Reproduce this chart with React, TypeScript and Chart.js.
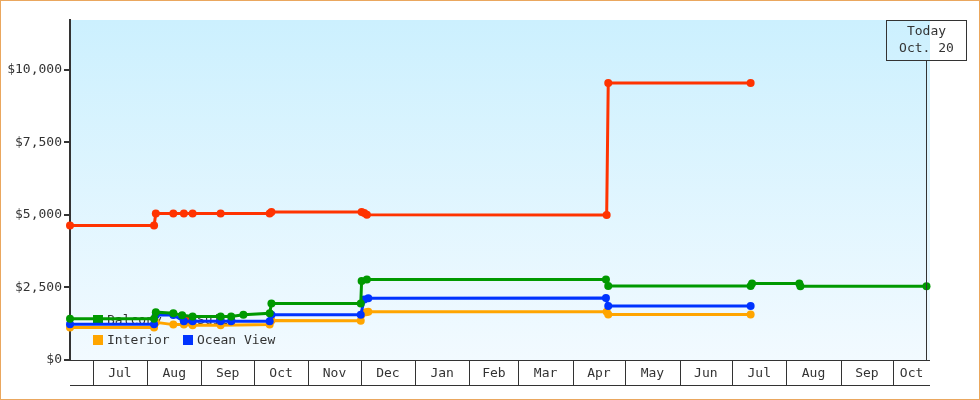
import React, { useEffect, useRef } from 'react';
import { Chart, registerables } from 'chart.js';

Chart.register(...registerables);

// x values are days counted from July 1 of the first year
const xMin = -13;
const xMax = 478;
const todayDay = 476;
const todayLines = ['Today', 'Oct. 20'];

const monthLabels = ['Jul', 'Aug', 'Sep', 'Oct', 'Nov', 'Dec', 'Jan', 'Feb', 'Mar', 'Apr', 'May', 'Jun', 'Jul', 'Aug', 'Sep', 'Oct'];
const monthStarts = [0, 31, 62, 92, 123, 153, 184, 215, 243, 274, 304, 335, 365, 396, 427, 457];

const yTicks = [0, 2500, 5000, 7500, 10000];
const yMax = 11724;

const seriesNames = ['Suite', 'Balcony', 'Ocean View', 'Interior'];
const seriesColors = ['#ff3300', '#009900', '#0033ff', '#ffa500'];
const legendOrder = ['Balcony', 'Suite', 'Interior', 'Ocean View'];

const suiteDays = [-13, 35, 36, 46, 52, 57, 73, 101, 102, 153.5, 155, 156.5, 293.4, 294.3, 375.6];
const suiteValues = [4640, 4640, 5050, 5050, 5050, 5050, 5050, 5050, 5100, 5100, 5070, 5010, 5000, 9550, 9550];

const balconyDays = [-13, 35, 36, 46, 51, 57, 73, 79, 86, 101, 102, 153, 153.5, 156.5, 293, 294.3, 375.6, 376.4, 403.4, 404, 476];
const balconyValues = [1425, 1425, 1650, 1610, 1540, 1500, 1500, 1500, 1560, 1610, 1950, 1950, 2720, 2780, 2780, 2550, 2550, 2640, 2640, 2540, 2540];

const oceanDays = [-13, 35, 36, 46, 52, 57, 73, 79, 101, 102, 153, 155, 157.3, 293, 294.3, 375.6];
const oceanValues = [1230, 1230, 1550, 1550, 1340, 1340, 1340, 1340, 1340, 1560, 1560, 2090, 2130, 2140, 1860, 1860];

const interiorDays = [-13, 35, 36, 46, 52, 57, 73, 101, 102, 153, 156, 157.3, 293.4, 294.3, 375.6];
const interiorValues = [1120, 1120, 1300, 1220, 1220, 1200, 1200, 1220, 1360, 1350, 1650, 1660, 1660, 1570, 1570];

const seriesDays = [suiteDays, balconyDays, oceanDays, interiorDays];
const seriesValues = [suiteValues, balconyValues, oceanValues, interiorValues];

const FONT_FAMILY = '"DejaVu Sans Mono", monospace';
const TEXT = '#333333';

export default function App() {
  const ref = useRef<HTMLCanvasElement>(null);

  useEffect(() => {
    document.body.style.margin = '0';
    const canvas = ref.current;
    if (!canvas) return;
    const font = `13px ${FONT_FAMILY}`;

    const customPlugin = {
      id: 'customDecor',
      beforeDraw(chart: any) {
        const { ctx, chartArea: a } = chart;
        ctx.save();
        ctx.fillStyle = '#ffffff';
        ctx.fillRect(0, 0, chart.width, chart.height);
        const g = ctx.createLinearGradient(0, a.top, 0, a.bottom);
        g.addColorStop(0, '#ccf0fe');
        g.addColorStop(1, '#f2faff');
        ctx.fillStyle = g;
        ctx.fillRect(a.left, a.top, a.right - a.left, a.bottom - a.top);
        ctx.restore();
      },
      beforeDatasetsDraw(chart: any) {
        const { ctx, chartArea: a } = chart;
        ctx.save();
        ctx.font = font;
        ctx.textBaseline = 'middle';
        ctx.textAlign = 'left';
        legendOrder.forEach((name, i) => {
          const col = i % 2;
          const row = Math.floor(i / 2);
          const x = a.left + (col === 0 ? 23 : 113);
          const cy = a.bottom - 40 + row * 20;
          const color = seriesColors[seriesNames.indexOf(name)];
          ctx.fillStyle = color;
          ctx.fillRect(x, cy - 5, 10, 10);
          ctx.fillStyle = TEXT;
          ctx.fillText(name, x + 14, cy + 1);
        });
        ctx.restore();
      },
      afterDraw(chart: any) {
        const { ctx, chartArea: a } = chart;
        const xs = chart.scales.x;
        ctx.save();
        ctx.strokeStyle = TEXT;
        ctx.lineWidth = 1;
        // x axis row
        ctx.beginPath();
        ctx.moveTo(a.left, a.bottom + 0.5);
        ctx.lineTo(a.right, a.bottom + 0.5);
        ctx.moveTo(a.left, a.bottom + 25.5);
        ctx.lineTo(a.right, a.bottom + 25.5);
        monthStarts.forEach((d) => {
          const px = Math.round(xs.getPixelForValue(d)) + 0.5;
          ctx.moveTo(px, a.bottom);
          ctx.lineTo(px, a.bottom + 25);
        });
        ctx.stroke();
        ctx.font = font;
        ctx.fillStyle = TEXT;
        ctx.textAlign = 'center';
        ctx.textBaseline = 'middle';
        monthLabels.forEach((lab, i) => {
          const s = monthStarts[i];
          const e = i + 1 < monthStarts.length ? monthStarts[i + 1] : xMax;
          const px = (xs.getPixelForValue(s) + xs.getPixelForValue(e)) / 2;
          ctx.fillText(lab, px, a.bottom + 14);
        });
        // today marker
        const tx = xs.getPixelForValue(todayDay);
        const bx = Math.round(tx - 40) + 0.5;
        ctx.strokeRect(bx, a.top + 0.5, 80, 40);
        ctx.beginPath();
        const lx = Math.round(tx) + 0.5;
        ctx.moveTo(lx, a.top + 40.5);
        ctx.lineTo(lx, a.bottom);
        ctx.stroke();
        ctx.fillText(todayLines[0], tx, a.top + 12);
        ctx.fillText(todayLines[1], tx, a.top + 29);
        // outer border
        ctx.strokeStyle = '#eaa75e';
        ctx.strokeRect(0.5, 0.5, chart.width - 1, chart.height - 1);
        ctx.restore();
      },
    };

    const datasets = seriesNames.map((name, i) => ({
      label: name,
      data: seriesDays[i].map((d, j) => ({ x: d, y: seriesValues[i][j] })),
      borderColor: seriesColors[i],
      backgroundColor: seriesColors[i],
      pointBackgroundColor: seriesColors[i],
      pointBorderColor: seriesColors[i],
      pointBorderWidth: 0,
      pointRadius: 4,
      borderWidth: 3,
      tension: 0,
      fill: false,
      clip: false as any,
    }));

    const chart = new Chart(canvas, {
      type: 'line',
      data: { datasets },
      options: {
        animation: false,
        responsive: false,
        maintainAspectRatio: false,
        layout: { padding: { left: 8, top: 20, right: 50, bottom: 40 } },
        plugins: { legend: { display: false }, tooltip: { enabled: false } },
        scales: {
          x: {
            type: 'linear',
            min: xMin,
            max: xMax,
            display: false,
          },
          y: {
            type: 'linear',
            min: 0,
            max: yMax,
            afterFit: (s: any) => {
              s.width = 62;
            },
            afterBuildTicks: (s: any) => {
              s.ticks = yTicks.map((v) => ({ value: v }));
            },
            border: { display: true, color: TEXT, width: 2 },
            grid: { drawOnChartArea: false, drawTicks: true, tickLength: 6, color: TEXT, lineWidth: 2 },
            ticks: {
              padding: 2,
              color: TEXT,
              font: { family: FONT_FAMILY, size: 13 },
              callback: (v: any) => '$' + Number(v).toLocaleString('en-US'),
            },
          },
        },
      },
      plugins: [customPlugin],
    });
    return () => chart.destroy();
  }, []);

  return (
    <div style={{ width: 980, height: 400, position: 'relative' }}>
      <canvas ref={ref} width={980} height={400} style={{ display: 'block' }} />
    </div>
  );
}
